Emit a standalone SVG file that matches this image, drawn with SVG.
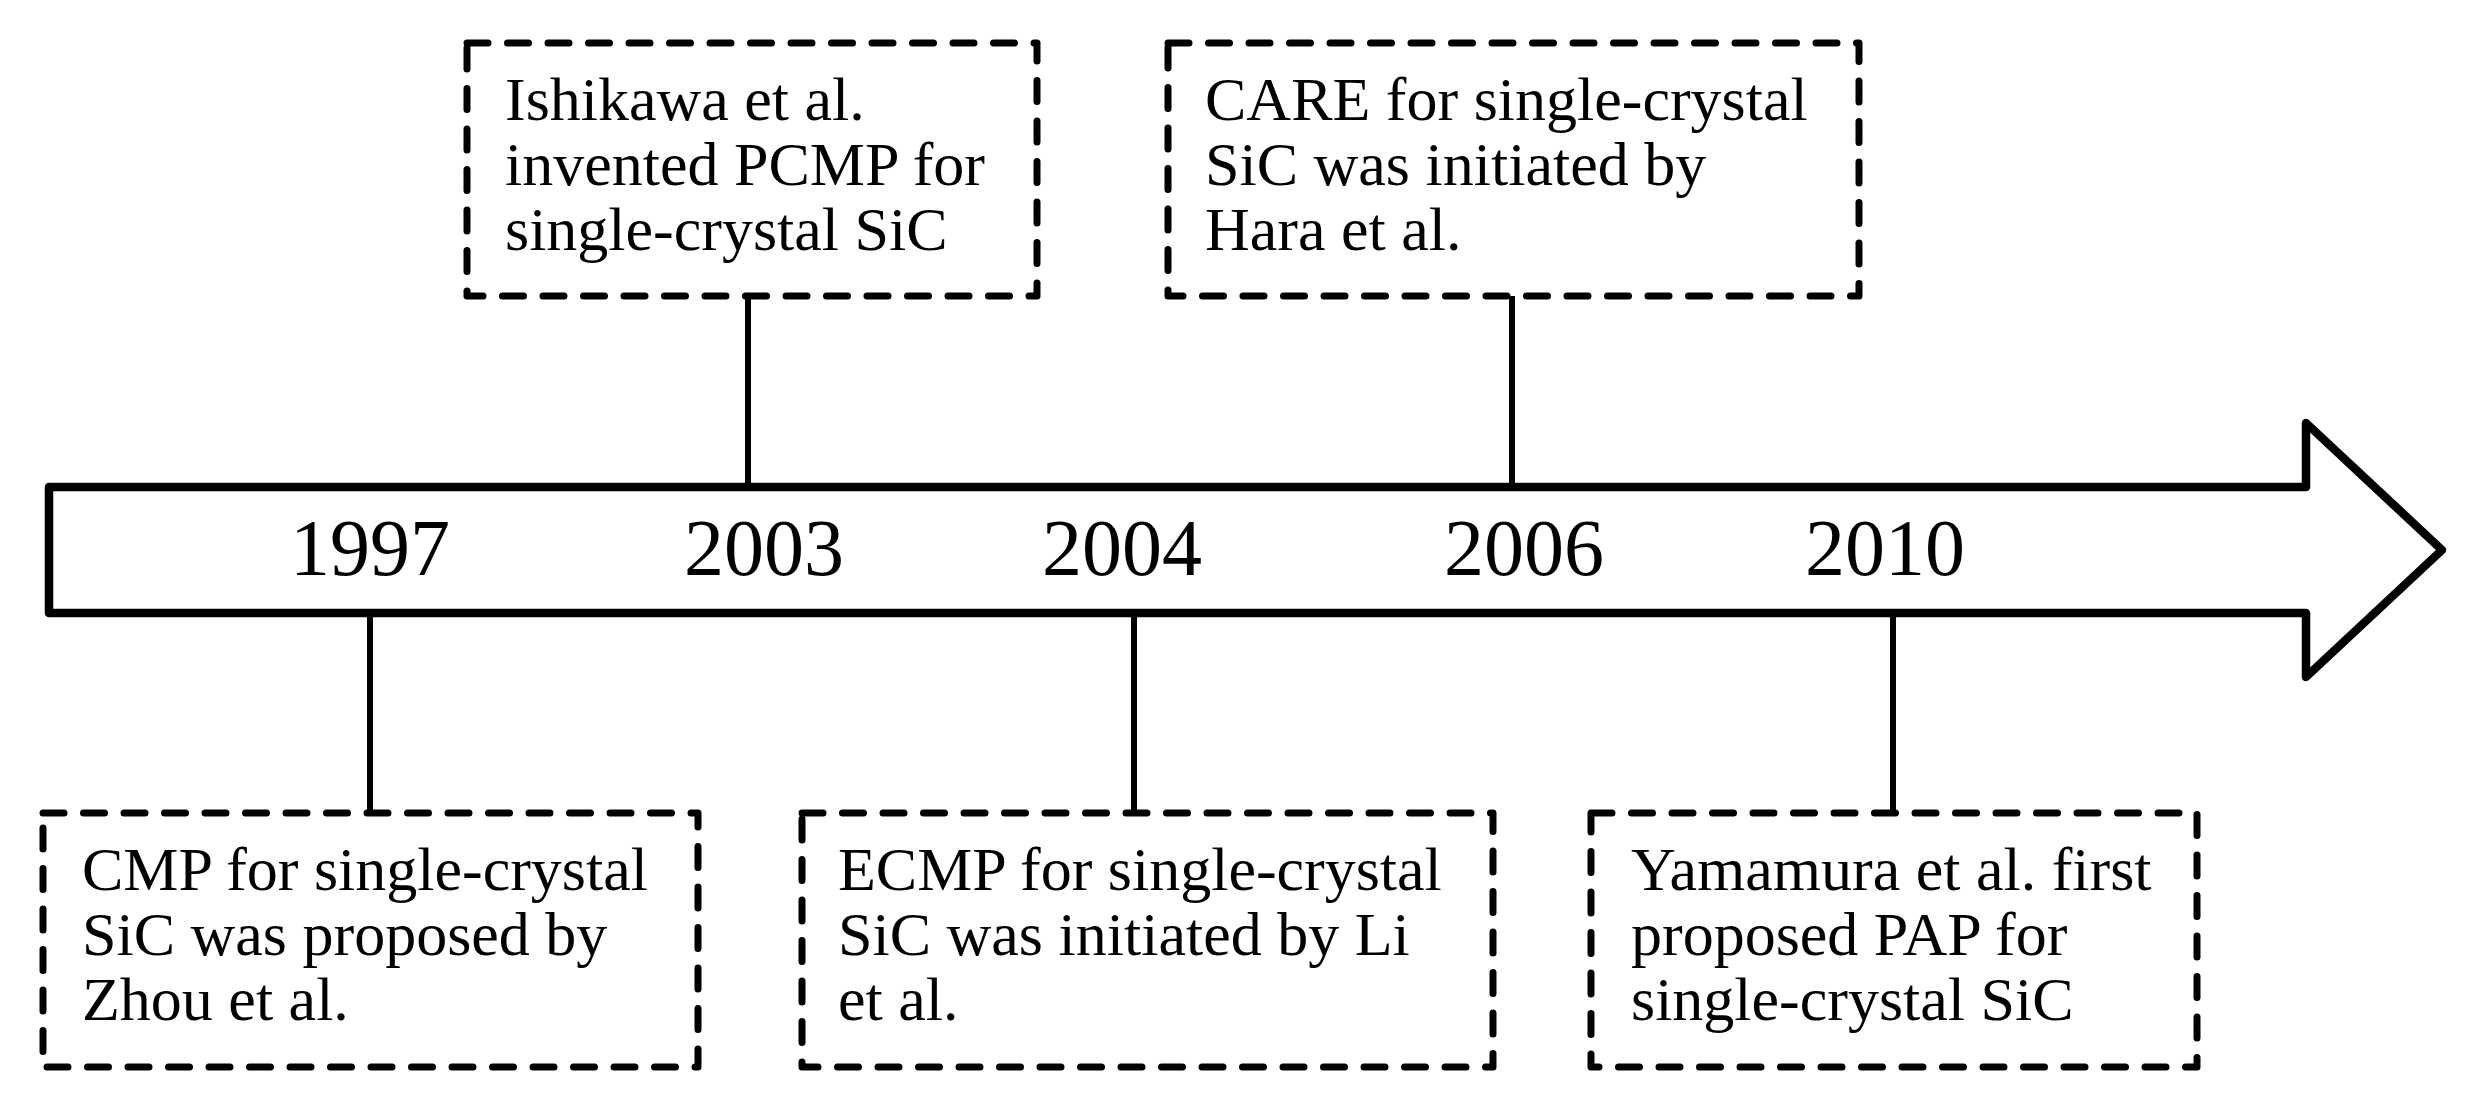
<svg xmlns="http://www.w3.org/2000/svg" width="2470" height="1102" viewBox="0 0 2470 1102">
<style>
.box{fill:none;stroke:#000;stroke-width:7;stroke-dasharray:21 19.5;stroke-linecap:round;stroke-linejoin:round}
.t{font-family:"Liberation Serif","Times New Roman",serif;font-size:62px;fill:#000}
.yr{font-family:"Liberation Serif","Times New Roman",serif;font-size:80px;fill:#000}
.con{stroke:#000;stroke-width:6;fill:none}
</style>
<rect width="2470" height="1102" fill="#fff"/>
<g id="timeline">
<polygon points="49,487 2306,487 2306,423 2442,550 2306,677 2306,613 49,613" fill="#fff" stroke="#000" stroke-width="8.5" stroke-linejoin="round"/>
<text class="yr" x="290" y="575">1997</text>
<text class="yr" x="684" y="575">2003</text>
<text class="yr" x="1042" y="575">2004</text>
<text class="yr" x="1444" y="575">2006</text>
<text class="yr" x="1805" y="575">2010</text>
</g>
<g id="connectors">
<line class="con" x1="748" y1="296" x2="748" y2="487"/>
<line class="con" x1="1512" y1="296" x2="1512" y2="487"/>
<line class="con" x1="370" y1="613" x2="370" y2="813"/>
<line class="con" x1="1134" y1="613" x2="1134" y2="813"/>
<line class="con" x1="1893" y1="613" x2="1893" y2="813"/>
</g>
<g id="node-2003">
<rect class="box" x="467" y="43" width="570" height="253"/>
<text class="t" x="505" y="120">Ishikawa et al.</text>
<text class="t" x="505" y="185">invented PCMP for</text>
<text class="t" x="505" y="250">single-crystal SiC</text>
</g>
<g id="node-2006">
<rect class="box" x="1168" y="43" width="691" height="253"/>
<text class="t" x="1205" y="120">CARE for single-crystal</text>
<text class="t" x="1205" y="185">SiC was initiated by</text>
<text class="t" x="1205" y="250">Hara et al.</text>
</g>
<g id="node-1997">
<rect class="box" x="43" y="813" width="655" height="254"/>
<text class="t" x="82" y="890">CMP for single-crystal</text>
<text class="t" x="82" y="955">SiC was proposed by</text>
<text class="t" x="82" y="1020">Zhou et al.</text>
</g>
<g id="node-2004">
<rect class="box" x="802" y="813" width="691" height="254"/>
<text class="t" x="838" y="890">ECMP for single-crystal</text>
<text class="t" x="838" y="955">SiC was initiated by Li</text>
<text class="t" x="838" y="1020">et al.</text>
</g>
<g id="node-2010">
<rect class="box" x="1591" y="813" width="606" height="254"/>
<text class="t" x="1631" y="890">Yamamura et al. first</text>
<text class="t" x="1631" y="955">proposed PAP for</text>
<text class="t" x="1631" y="1020">single-crystal SiC</text>
</g>
</svg>
